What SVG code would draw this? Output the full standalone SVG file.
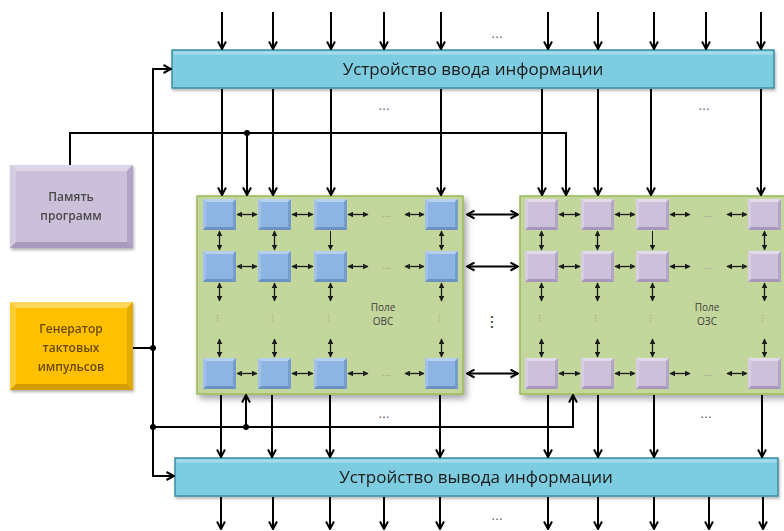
<svg xmlns="http://www.w3.org/2000/svg" xmlns:xlink="http://www.w3.org/1999/xlink" width="784" height="531" viewBox="0 0 784 531">
<style>
.ln{fill:none;stroke:#000;stroke-width:2}
.ar{fill:none;stroke:#000;stroke-width:2;marker-end:url(#ah)}
.ar2{fill:none;stroke:#000;stroke-width:2;marker-start:url(#ah);marker-end:url(#ah)}
.da{fill:none;stroke:#1a1a1a;stroke-width:1.3;marker-start:url(#sh);marker-end:url(#sh)}
.sa{fill:none;stroke:#1a1a1a;stroke-width:1;marker-end:url(#sh)}
.big{font-family:"Open Sans","Noto Sans","Liberation Sans",sans-serif;font-size:17px;fill:#1a1a1a;text-anchor:middle}
.lbl{font-family:"Open Sans","Noto Sans","Liberation Sans",sans-serif;font-size:12px;font-weight:600;text-anchor:middle}
.fld{font-family:"Open Sans","Noto Sans","Liberation Sans",sans-serif;font-size:10px;fill:#404040;text-anchor:middle}
.dots{font-family:"Liberation Sans",sans-serif;font-size:12px;fill:#444;text-anchor:middle}
.sdots{font-family:"Liberation Sans",sans-serif;font-size:9px;fill:#8a8a8a;text-anchor:middle}
.dot{fill:#000}
</style>
<defs>
<marker id="ah" viewBox="0 0 10 10" refX="9" refY="5" markerWidth="10" markerHeight="10" markerUnits="userSpaceOnUse" orient="auto-start-reverse">
<path d="M1.5,1 L9,5 L1.5,9" fill="none" stroke="#000" stroke-width="2"/>
</marker>
<marker id="sh" viewBox="0 0 10 10" refX="9" refY="5" markerWidth="6" markerHeight="6" markerUnits="userSpaceOnUse" orient="auto-start-reverse">
<path d="M0,0 L10,5 L0,10 Z" fill="#1a1a1a"/>
</marker>
<filter id="shd" x="-10%" y="-10%" width="125%" height="130%">
<feDropShadow dx="3" dy="4" stdDeviation="3" flood-color="#000" flood-opacity="0.35"/>
</filter>
<filter id="shs" x="-10%" y="-10%" width="125%" height="140%">
<feDropShadow dx="1" dy="2" stdDeviation="1.5" flood-color="#000" flood-opacity="0.3"/>
</filter>
<symbol id="cb" viewBox="0 0 33 31" width="33" height="31" overflow="visible">
<rect x="0" y="0" width="33" height="31" fill="#8DB4E2"/>
<polygon points="0,0 33,0 30,3 3,3" fill="#B7D0EF"/>
<polygon points="0,0 3,3 3,28 0,31" fill="#A2C1E8"/>
<polygon points="33,0 33,31 30,28 30,3" fill="#739DCF"/>
<polygon points="0,31 33,31 30,28 3,28" fill="#6A93C4"/>
</symbol>
<symbol id="cl" viewBox="0 0 33 31" width="33" height="31" overflow="visible">
<rect x="0" y="0" width="33" height="31" fill="#CCC0DA"/>
<polygon points="0,0 33,0 30,3 3,3" fill="#E2DBEB"/>
<polygon points="0,0 3,3 3,28 0,31" fill="#D8CEE4"/>
<polygon points="33,0 33,31 30,28 30,3" fill="#B3A5C6"/>
<polygon points="0,31 33,31 30,28 3,28" fill="#A797BC"/>
</symbol>
</defs>

<rect x="0" y="0" width="784" height="531" fill="#fff"/>

<!-- Nodes -->
<g id="input-device" filter="url(#shs)">
<rect x="172" y="50" width="602" height="38" fill="#7DCCE0" stroke="#3F8EA3" stroke-width="1.5"/>
<rect x="173.5" y="51.5" width="599" height="3" fill="#A5DDEB"/>
<text class="big" x="473" y="75">Устройство ввода информации</text>
</g>

<g id="output-device" filter="url(#shs)">
<rect x="175" y="458" width="603" height="38" fill="#7DCCE0" stroke="#3F8EA3" stroke-width="1.5"/>
<rect x="176.5" y="459.5" width="600" height="3" fill="#A5DDEB"/>
<text class="big" x="476" y="483">Устройство вывода информации</text>
</g>

<g id="program-memory" filter="url(#shs)">
<rect x="10" y="165" width="123" height="83" fill="#CBBFDA"/>
<polygon points="10,165 133,165 127,171 16,171" fill="#DDD5E8"/>
<polygon points="10,165 16,171 16,242 10,248" fill="#D5CBE2"/>
<polygon points="133,165 133,248 127,242 127,171" fill="#B2A4C6"/>
<polygon points="10,248 133,248 127,242 16,242" fill="#A999BD"/>
<text class="lbl" x="71" y="201" fill="#4a4a4a">Память</text>
<text class="lbl" x="71" y="220" fill="#4a4a4a">программ</text>
</g>

<g id="clock-generator" filter="url(#shs)">
<rect x="10" y="302" width="123" height="88" fill="#FFC000"/>
<polygon points="10,302 133,302 127,308 16,308" fill="#FFD75A"/>
<polygon points="10,302 16,308 16,384 10,390" fill="#FFCD33"/>
<polygon points="133,302 133,390 127,384 127,308" fill="#E3AA00"/>
<polygon points="10,390 133,390 127,384 16,384" fill="#D49E00"/>
<text class="lbl" x="71" y="333" fill="#6A4A00">Генератор</text>
<text class="lbl" x="71" y="352" fill="#6A4A00">тактовых</text>
<text class="lbl" x="71" y="371" fill="#6A4A00">импульсов</text>
</g>

<g id="field-ovs">
<rect x="197" y="196" width="266" height="198" fill="#C3D69B" stroke="#9BBB59" stroke-width="1.5" filter="url(#shd)"/>
<use xlink:href="#cb" x="203" y="199"/><use xlink:href="#cb" x="258" y="199"/><use xlink:href="#cb" x="314" y="199"/><use xlink:href="#cb" x="425" y="199"/>
<use xlink:href="#cb" x="203" y="251"/><use xlink:href="#cb" x="258" y="251"/><use xlink:href="#cb" x="314" y="251"/><use xlink:href="#cb" x="425" y="251"/>
<use xlink:href="#cb" x="203" y="358"/><use xlink:href="#cb" x="258" y="358"/><use xlink:href="#cb" x="314" y="358"/><use xlink:href="#cb" x="425" y="358"/>
<g>
<line class="da" x1="237" y1="214.5" x2="257" y2="214.5"/><line class="da" x1="292" y1="214.5" x2="313" y2="214.5"/><line class="da" x1="348" y1="214.5" x2="368" y2="214.5"/><line class="da" x1="405" y1="214.5" x2="424" y2="214.5"/>
<line class="da" x1="237" y1="266.5" x2="257" y2="266.5"/><line class="da" x1="292" y1="266.5" x2="313" y2="266.5"/><line class="da" x1="348" y1="266.5" x2="368" y2="266.5"/><line class="da" x1="405" y1="266.5" x2="424" y2="266.5"/>
<line class="da" x1="237" y1="373.5" x2="257" y2="373.5"/><line class="da" x1="292" y1="373.5" x2="313" y2="373.5"/><line class="da" x1="348" y1="373.5" x2="368" y2="373.5"/><line class="da" x1="405" y1="373.5" x2="424" y2="373.5"/>
<line class="da" x1="219.5" y1="231" x2="219.5" y2="250"/><line class="da" x1="274.5" y1="231" x2="274.5" y2="250"/><line class="sa" x1="330.5" y1="231" x2="330.5" y2="250"/><line class="da" x1="441.5" y1="231" x2="441.5" y2="250"/>
<line class="da" x1="219.5" y1="283" x2="219.5" y2="301"/><line class="da" x1="274.5" y1="283" x2="274.5" y2="301"/><line class="da" x1="330.5" y1="283" x2="330.5" y2="301"/><line class="da" x1="441.5" y1="283" x2="441.5" y2="301"/>
<line class="da" x1="219.5" y1="339" x2="219.5" y2="357"/><line class="da" x1="274.5" y1="339" x2="274.5" y2="357"/><line class="da" x1="330.5" y1="339" x2="330.5" y2="357"/><line class="da" x1="441.5" y1="339" x2="441.5" y2="357"/>
</g>
<text class="sdots" x="386" y="217">…</text><text class="sdots" x="386" y="269">…</text><text class="sdots" x="386" y="376">…</text>
<g class="sdots"><text x="219.5" y="321" transform="rotate(90 219.5 318)">…</text><text x="274.5" y="321" transform="rotate(90 274.5 318)">…</text><text x="330.5" y="321" transform="rotate(90 330.5 318)">…</text><text x="441.5" y="321" transform="rotate(90 441.5 318)">…</text></g>
<text class="fld" x="383" y="311">Поле</text>
<text class="fld" x="383" y="325">ОВС</text>
</g>

<g id="field-ozs">
<rect x="520" y="196" width="272" height="198" fill="#C3D69B" stroke="#9BBB59" stroke-width="1.5" filter="url(#shd)"/>
<use xlink:href="#cl" x="525" y="199"/><use xlink:href="#cl" x="581" y="199"/><use xlink:href="#cl" x="636" y="199"/><use xlink:href="#cl" x="748" y="199"/>
<use xlink:href="#cl" x="525" y="251"/><use xlink:href="#cl" x="581" y="251"/><use xlink:href="#cl" x="636" y="251"/><use xlink:href="#cl" x="748" y="251"/>
<use xlink:href="#cl" x="525" y="358"/><use xlink:href="#cl" x="581" y="358"/><use xlink:href="#cl" x="636" y="358"/><use xlink:href="#cl" x="748" y="358"/>
<g>
<line class="da" x1="559" y1="214.5" x2="580" y2="214.5"/><line class="da" x1="615" y1="214.5" x2="635" y2="214.5"/><line class="da" x1="670" y1="214.5" x2="690" y2="214.5"/><line class="da" x1="727" y1="214.5" x2="747" y2="214.5"/>
<line class="da" x1="559" y1="266.5" x2="580" y2="266.5"/><line class="da" x1="615" y1="266.5" x2="635" y2="266.5"/><line class="da" x1="670" y1="266.5" x2="690" y2="266.5"/><line class="da" x1="727" y1="266.5" x2="747" y2="266.5"/>
<line class="da" x1="559" y1="373.5" x2="580" y2="373.5"/><line class="da" x1="615" y1="373.5" x2="635" y2="373.5"/><line class="da" x1="670" y1="373.5" x2="690" y2="373.5"/><line class="da" x1="727" y1="373.5" x2="747" y2="373.5"/>
<line class="da" x1="541.5" y1="231" x2="541.5" y2="250"/><line class="da" x1="597.5" y1="231" x2="597.5" y2="250"/><line class="sa" x1="652.5" y1="231" x2="652.5" y2="250"/><line class="da" x1="764.5" y1="231" x2="764.5" y2="250"/>
<line class="da" x1="541.5" y1="283" x2="541.5" y2="301"/><line class="da" x1="597.5" y1="283" x2="597.5" y2="301"/><line class="da" x1="652.5" y1="283" x2="652.5" y2="301"/><line class="da" x1="764.5" y1="283" x2="764.5" y2="301"/>
<line class="da" x1="541.5" y1="339" x2="541.5" y2="357"/><line class="da" x1="597.5" y1="339" x2="597.5" y2="357"/><line class="da" x1="652.5" y1="339" x2="652.5" y2="357"/><line class="da" x1="764.5" y1="339" x2="764.5" y2="357"/>
</g>
<text class="sdots" x="708" y="217">…</text><text class="sdots" x="708" y="269">…</text><text class="sdots" x="708" y="376">…</text>
<g class="sdots"><text x="541.5" y="321" transform="rotate(90 541.5 318)">…</text><text x="597.5" y="321" transform="rotate(90 597.5 318)">…</text><text x="652.5" y="321" transform="rotate(90 652.5 318)">…</text><text x="764.5" y="321" transform="rotate(90 764.5 318)">…</text></g>
<text class="fld" x="707" y="311">Поле</text>
<text class="fld" x="707" y="325">ОЗС</text>
</g>

<!-- Connectors -->
<g id="connectors">
<path class="ar" d="M222,12 V49"/><path class="ar" d="M273,12 V49"/><path class="ar" d="M331,12 V49"/><path class="ar" d="M384,12 V49"/><path class="ar" d="M441,12 V49"/>
<path class="ar" d="M548,12 V49"/><path class="ar" d="M598,12 V49"/><path class="ar" d="M654,12 V49"/><path class="ar" d="M706,12 V49"/><path class="ar" d="M761,12 V49"/>
<path class="ar" d="M222,89 V195"/><path class="ar" d="M273,89 V195"/><path class="ar" d="M331,89 V195"/><path class="ar" d="M441,89 V195"/>
<path class="ar" d="M542,89 V195"/><path class="ar" d="M598,89 V195"/><path class="ar" d="M651,89 V195"/><path class="ar" d="M761,89 V195"/>
<path class="ar" d="M70,165 V133 H566 V195"/>
<path class="ar" d="M247,133 V195"/>
<circle class="dot" cx="247" cy="133" r="3"/>
<path class="ln" d="M133,348 H153"/>
<path class="ar" d="M153,348 V69 H171"/>
<path class="ar" d="M153,348 V476 H174"/>
<circle class="dot" cx="153" cy="348" r="3"/>
<path class="ar" d="M153,427 H573 V395"/>
<path class="ar" d="M246,427 V395"/>
<circle class="dot" cx="153" cy="427" r="3"/>
<circle class="dot" cx="246" cy="427" r="3"/>
<path class="ar" d="M221,395 V457"/><path class="ar" d="M272,395 V457"/><path class="ar" d="M330,395 V457"/><path class="ar" d="M440,395 V457"/>
<path class="ar" d="M548,395 V457"/><path class="ar" d="M598,395 V457"/><path class="ar" d="M654,395 V457"/><path class="ar" d="M762,395 V457"/>
<line class="ar2" x1="467" y1="214.5" x2="518" y2="214.5"/>
<line class="ar2" x1="467" y1="266.5" x2="518" y2="266.5"/>
<line class="ar2" x1="467" y1="373.5" x2="518" y2="373.5"/>
<path class="ar" d="M221,497 V529"/><path class="ar" d="M273,497 V529"/><path class="ar" d="M330,497 V529"/><path class="ar" d="M384,497 V529"/><path class="ar" d="M440,497 V529"/>
<path class="ar" d="M548,497 V529"/><path class="ar" d="M598,497 V529"/><path class="ar" d="M654,497 V529"/><path class="ar" d="M709,497 V529"/><path class="ar" d="M763,497 V529"/>
</g>

<g id="ellipses">
<text class="dots" x="497" y="38">…</text>
<text class="dots" x="384" y="110">…</text>
<text class="dots" x="704" y="110">…</text>
<text class="dots" x="384" y="418">…</text>
<text class="dots" x="706" y="418">…</text>
<text class="dots" x="497" y="520">…</text>
<text class="dots" x="491" y="322" transform="rotate(90 491 322)" style="font-size:16px;fill:#000">…</text>
</g>
</svg>
